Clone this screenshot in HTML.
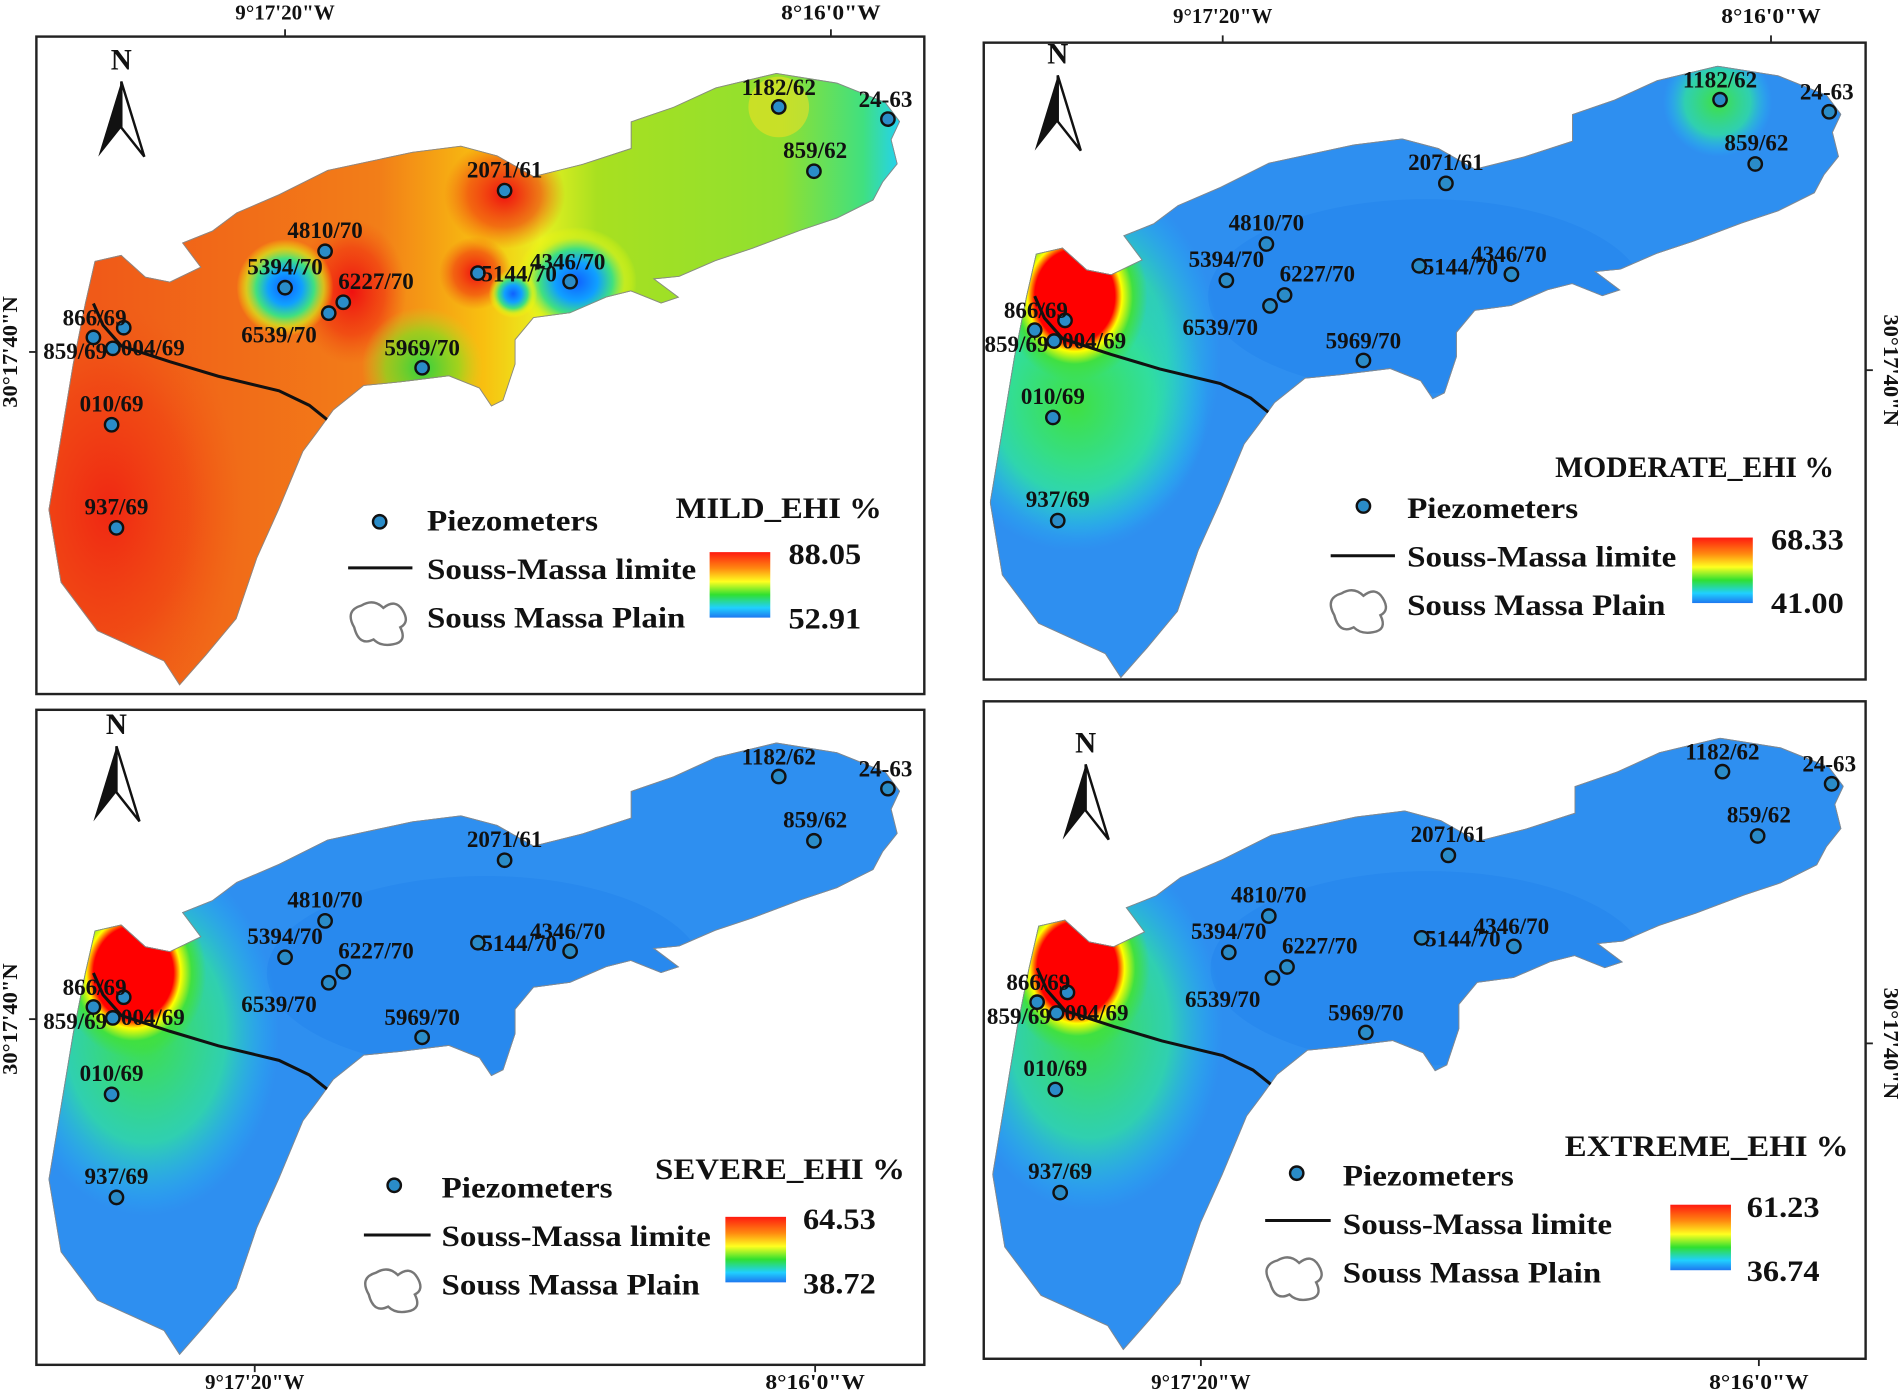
<!DOCTYPE html>
<html><head><meta charset="utf-8">
<style>
html,body{margin:0;padding:0;background:#fff;}
svg{display:block;}
text{font-family:"Liberation Serif",serif;font-weight:bold;fill:#111;}
</style></head>
<body>
<svg id="fig" width="1902" height="1399" viewBox="0 0 1568 1153" xmlns="http://www.w3.org/2000/svg">
<defs>
<linearGradient id="cbar" x1="0" y1="0" x2="0" y2="1">
<stop offset="0" stop-color="#ff1a10"/><stop offset="0.25" stop-color="#ff8a10"/><stop offset="0.45" stop-color="#ffff20"/><stop offset="0.65" stop-color="#30e030"/><stop offset="0.85" stop-color="#20d0ff"/><stop offset="1" stop-color="#1e78f0"/>
</linearGradient>
<radialGradient id="blueBlob"><stop offset="0" stop-color="#1060ff"/><stop offset="0.35" stop-color="#10a0ff"/><stop offset="0.6" stop-color="#40e080"/><stop offset="0.8" stop-color="#d0f020" stop-opacity="0.7"/><stop offset="1" stop-color="#ffff00" stop-opacity="0"/></radialGradient>
<radialGradient id="greenBlob"><stop offset="0" stop-color="#30d040"/><stop offset="0.6" stop-color="#80e020" stop-opacity="0.7"/><stop offset="1" stop-color="#c0e020" stop-opacity="0"/></radialGradient>
<radialGradient id="redBlob"><stop offset="0" stop-color="#f01010"/><stop offset="0.6" stop-color="#f03010" stop-opacity="0.6"/><stop offset="1" stop-color="#f05010" stop-opacity="0"/></radialGradient>
<radialGradient id="hotSpot"><stop offset="0" stop-color="#ff0000"/><stop offset="0.55" stop-color="#ff0000"/><stop offset="0.65" stop-color="#ffff00"/><stop offset="0.8" stop-color="#40e040"/><stop offset="1" stop-color="#40e040" stop-opacity="0"/></radialGradient>
<radialGradient id="westGreen"><stop offset="0" stop-color="#40e040"/><stop offset="0.6" stop-color="#30e0a0" stop-opacity="0.8"/><stop offset="1" stop-color="#20c0ff" stop-opacity="0"/></radialGradient>
</defs>
<g id="root"></g>
</svg>
<script>
const NS="http://www.w3.org/2000/svg";
const root=document.getElementById('root');
function mk(tag,attrs,parent){const e=document.createElementNS(NS,tag);for(const k in attrs)e.setAttribute(k,attrs[k]);(parent||root).appendChild(e);return e;}
function txt(s,x,y,size,parent,anchor,len){const a={x:x,y:y,'font-size':size,'text-anchor':anchor||'start'};if(len){a.textLength=len;a.lengthAdjust='spacingAndGlyphs';}const t=mk('text',a,parent);t.textContent=s;return t;}

const outline=[[555,88],[590,72],[640,60],[690,68],[730,84],[742,100],[735,115],[740,135],[728,150],[720,165],[700,175],[690,180],[660,190],[620,205],[590,215],[560,228],[540,230],[560,245],[545,250],[520,240],[500,245],[470,258],[440,262],[425,280],[425,300],[415,330],[405,335],[395,320],[370,310],[330,315],[300,318],[275,338],[262,356],[250,372],[230,420],[212,460],[195,510],[170,540],[148,565],[135,545],[80,520],[50,480],[40,420],[50,360],[60,300],[70,250],[78,215],[100,210],[120,228],[140,232],[165,220],[150,200],[175,190],[195,175],[230,160],[270,140],[340,125],[380,120],[410,128],[440,145],[480,135],[520,122],[520,100]];
const stationNames=["1182/62","24-63","859/62","2071/61","4810/70","5394/70","6227/70","6539/70","5144/70","4346/70","866/69","859/69","004/69","5969/70","010/69","937/69"];
const stationPts=[[642,88],[732,98],[671,141],[416,157],[268,207],[235,237],[283,249],[271,258],[394,225],[470,232],[102,270],[77,278],[93,287],[348,303],[92,350],[96,435]];
const labelPts=[[642,78],[730,88],[672,130],[416,146],[268,196],[235,226],[310,238],[230,282],[428,232],[468,222],[78,268],[62,296],[126,293],[348,293],[92,339],[96,424]];
const boundary=[[77,250],[85,268],[100,285],[140,298],[180,310],[230,322],[255,334],[270,346]];

const panels=[
 {name:'mild',title:'MILD_EHI %',hi:'88.05',lo:'52.91',dx:0,dy:0,frame:[30,30,732,542],leg:{dot:[313,430],tx:352,ty:[437,477,517],line:[287,340,468],cb:[585,455],vx:650,vy:[465,518],title:[557,427,'start']},north:[100,55],ticks:{pos:'top',y:16,lab:[[235,'9°17\'20"W'],[685,'8°16\'0"W']],side:'left',sx:14,sy:290}},
 {name:'moderate',title:'MODERATE_EHI %',hi:'68.33',lo:'41.00',dx:776,dy:-6,frame:[811,35,727,525],leg:{dot:[1124,417],tx:1160,ty:[427,467,507],line:[1097,1150,458],cb:[1395,443],vx:1460,vy:[453,505],title:[1282,393,'start']},north:[872,50],ticks:{pos:'top',y:19,lab:[[1008,'9°17\'20"W'],[1460,'8°16\'0"W']],side:'right',sx:1553,sy:305}},
 {name:'severe',title:'SEVERE_EHI %',hi:'64.53',lo:'38.72',dx:0,dy:552,frame:[30,585,732,540],leg:{dot:[325,977],tx:364,ty:[987,1027,1067],line:[300,355,1018],cb:[598,1003],vx:662,vy:[1013,1066],title:[540,972,'start']},north:[96,603],ticks:{pos:'bottom',y:1145,lab:[[210,'9°17\'20"W'],[672,'8°16\'0"W']],side:'left',sx:14,sy:840}},
 {name:'extreme',title:'EXTREME_EHI %',hi:'61.23',lo:'36.74',dx:778,dy:548,frame:[811,578,727,542],leg:{dot:[1069,967],tx:1107,ty:[977,1017,1057],line:[1043,1097,1006],cb:[1377,993],vx:1440,vy:[1003,1056],title:[1290,953,'start']},north:[895,618],ticks:{pos:'bottom',y:1145,lab:[[990,'9°17\'20"W'],[1450,'8°16\'0"W']],side:'right',sx:1553,sy:860}}
];
const titleLens=[170,230,206,234];

panels.forEach((p,pi)=>{
 const g=mk('g',{});
 
 
 const f=p.frame;
 const fr=mk('rect',{x:f[0],y:f[1],width:f[2],height:f[3],fill:'#fff',stroke:'#222','stroke-width':2},g);
 
 
 p.ticks.lab.forEach(l=>{
  const ty=p.ticks.pos==='top'?f[1]:f[1]+f[3];
  mk('line',{x1:l[0],x2:l[0],y1:ty,y2:p.ticks.pos==='top'?ty-6:ty+6,stroke:'#222','stroke-width':1.5},g);
  const t=txt(l[1],l[0],p.ticks.y,17,g,'middle',l[1].length>9?92:82);
  
  
 });
 const lt=txt('30°17\'40"N',0,0,17,g,'middle',92);
 lt.setAttribute('transform','translate('+p.ticks.sx+','+p.ticks.sy+') rotate('+(p.ticks.side==='left'?-90:90)+')');
 
 
 const tx0=p.ticks.side==='left'?f[0]:f[0]+f[2];
 mk('line',{x1:tx0,x2:p.ticks.side==='left'?tx0-6:tx0+6,y1:p.ticks.sy,y2:p.ticks.sy,stroke:'#222','stroke-width':1.5},g);

 const cid='clip'+pi;
 const cp2=mk('clipPath',{id:cid},g);
 mk('polygon',{points:outline.map(q=>q.join(',')).join(' ')},cp2);
 const mg=mk('g',{'clip-path':'url(#'+cid+')','transform':'translate('+p.dx+','+p.dy+')'},g);
 
 
 if(pi===0){
  const lg=mk('linearGradient',{id:'mb',x1:80,y1:0,x2:745,y2:0,gradientUnits:'userSpaceOnUse'},g);
  [[0,'#f05a18'],[0.35,'#f27e18'],[0.48,'#f8c010'],[0.55,'#e8f020'],[0.62,'#a8e020'],[0.85,'#90e030'],[0.95,'#40e080'],[1,'#20d0ff']].forEach(s=>mk('stop',{offset:s[0],'stop-color':s[1]},lg));
  mk('rect',{x:0,y:0,width:800,height:600,fill:'url(#mb)'},mg);
  mk('ellipse',{cx:90,cy:420,rx:110,ry:170,fill:'url(#redBlob)',opacity:0.7},mg);
  mk('ellipse',{cx:416,cy:160,rx:50,ry:45,fill:'url(#redBlob)'},mg);
  mk('ellipse',{cx:290,cy:240,rx:45,ry:60,fill:'url(#redBlob)'},mg);
  mk('ellipse',{cx:392,cy:225,rx:30,ry:30,fill:'url(#redBlob)'},mg);
  mk('circle',{cx:235,cy:237,r:40,fill:'url(#blueBlob)'},mg);
  mk('ellipse',{cx:475,cy:232,rx:50,ry:45,fill:'url(#blueBlob)'},mg);
  mk('circle',{cx:423,cy:242,r:20,fill:'url(#blueBlob)'},mg);
  mk('circle',{cx:348,cy:303,r:50,fill:'url(#greenBlob)'},mg);
  mk('circle',{cx:642,cy:88,r:25,fill:'#ffe020',opacity:0.5},mg);
 } else {
  mk('rect',{x:0,y:0,width:800,height:600,fill:'#2e8ff0'},mg);
  mk('ellipse',{cx:400,cy:250,rx:180,ry:80,fill:'#2080ec',opacity:0.4},mg);
  mk('ellipse',{cx:120,cy:300,rx:110,ry:150,fill:'url(#westGreen)'},mg);
  if(pi===1){mk('ellipse',{cx:110,cy:340,rx:110,ry:120,fill:'url(#westGreen)'},mg);mk('circle',{cx:640,cy:90,r:45,fill:'url(#westGreen)'},mg);}
  mk('ellipse',{cx:110,cy:250,rx:60,ry:70,fill:'url(#hotSpot)'},mg);
 }
 mk('polygon',{points:outline.map(q=>q.join(',')).join(' '),fill:'none',stroke:'#888','stroke-width':1.5},mg);
 const bl=mk('polyline',{points:boundary.map(q=>q.join(',')).join(' '),fill:'none',stroke:'#111','stroke-width':2.5},mg);
 
 
 const sg=mk('g',{transform:'translate('+p.dx+','+p.dy+')'},g);
 stationPts.forEach((s,i)=>{
  const c=mk('circle',{cx:s[0],cy:s[1],r:5.5,fill:'#2a8cc8',stroke:'#111','stroke-width':2},sg);
  
  
  const l=labelPts[i];
  const t=txt(stationNames[i],l[0],l[1],19,sg,'middle');
  
  
 });
 const n=p.north;
 const na=mk('g',{},g);
 
 
 txt('N',n[0],n[1]+2,24,na,'middle').setAttribute('font-weight','normal');
 mk('polygon',{points:(n[0])+','+(n[1]+12)+' '+(n[0]-19)+','+(n[1]+74)+' '+n[0]+','+(n[1]+50)},na).setAttribute('fill','#111');
 mk('polygon',{points:(n[0])+','+(n[1]+12)+' '+(n[0]+19)+','+(n[1]+74)+' '+n[0]+','+(n[1]+50),fill:'#fff',stroke:'#111','stroke-width':2},na);
 const L=p.leg;
 const lg=mk('g',{},g);
 
 
 mk('circle',{cx:L.dot[0],cy:L.dot[1],r:5.5,fill:'#2a8cc8',stroke:'#111','stroke-width':2},lg);
 txt('Piezometers',L.tx,L.ty[0],24,lg,'start',141);
 mk('line',{x1:L.line[0],x2:L.line[1],y1:L.line[2],y2:L.line[2],stroke:'#111','stroke-width':2.5},lg);
 txt('Souss-Massa limite',L.tx,L.ty[1],24,lg,'start',222);
 const cx=L.tx-60,cy=L.ty[2]-8;
 mk('path',{d:'M'+(cx)+','+(cy+8)+' q-8,-14 6,-18 q10,-6 18,2 q10,-8 16,2 q6,10 -2,14 q6,12 -6,14 q-10,2 -16,-4 q-12,6 -16,-10 z',fill:'#fff',stroke:'#777','stroke-width':2},lg);
 txt('Souss Massa Plain',L.tx,L.ty[2],24,lg,'start',213);
 const cb=mk('rect',{x:L.cb[0],y:L.cb[1],width:50,height:54,fill:'url(#cbar)'},lg);
 
 
 txt(p.hi,L.vx,L.vy[0],24,lg,'start',60);
 txt(p.lo,L.vx,L.vy[1],24,lg,'start',60);
 const tt=txt(p.title,L.title[0],L.title[1],24,lg,'start',titleLens[pi]);
 
 
});
</script>
</body></html>
